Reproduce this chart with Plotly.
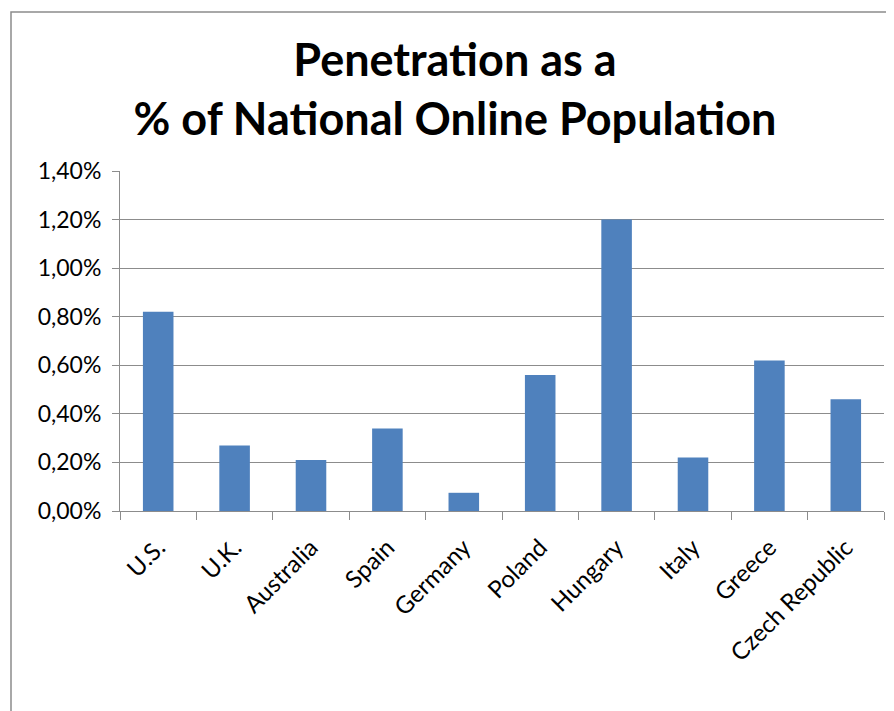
import plotly.graph_objects as go

countries = ["U.S.", "U.K.", "Australia", "Spain", "Germany", "Poland",
             "Hungary", "Italy", "Greece", "Czech Republic"]
penetration = [0.0082, 0.0027, 0.0021, 0.0034, 0.00075, 0.0056,
               0.0120, 0.0022, 0.0062, 0.0046]
y_ticks = [0, 0.002, 0.004, 0.006, 0.008, 0.010, 0.012, 0.014]

# page body has an 8px margin, so the figure is drawn 8px in from the window edge
W, H = 886, 703
L, R, T, B = 112, 10, 163, 200
pw, ph = W - L - R, H - T - B

fig = go.Figure(go.Bar(x=countries, y=penetration, marker_color="#4F81BD",
                       marker_line_width=0))

font = "Lato, 'Open Sans', sans-serif"
fig.update_layout(
    width=W, height=H,
    margin=dict(l=L, r=R, t=T, b=B),
    paper_bgcolor="white", plot_bgcolor="white",
    separators=",.",
    bargap=0.6,
    showlegend=False,
    font=dict(family=font, color="black", size=22),
    title=dict(text="<b>Penetration as a<br>% of National Online Population</b>",
               x=0.5045, xanchor="center", y=0.903, yanchor="middle",
               yref="container",
               font=dict(family=font, size=45, color="black")),
)
fig.update_yaxes(range=[0, 0.014], tickvals=y_ticks, tickformat=".2%",
                 showgrid=True, gridcolor="#8c8c8c", gridwidth=1,
                 showline=True, linecolor="#8c8c8c", linewidth=1,
                 ticks="outside", ticklen=7, tickcolor="#8c8c8c",
                 zeroline=False, tickfont=dict(size=23), ticklabelstandoff=6)
fig.update_xaxes(tickangle=-45, showline=True, linecolor="#8c8c8c", linewidth=1,
                 ticks="outside", ticklen=8, tickcolor="#8c8c8c",
                 tickson="boundaries", tickfont=dict(size=24),
                 ticklabelstandoff=12)

# outer chart border (extends beyond the visible window at right/bottom)
fig.add_shape(type="rect", xref="paper", yref="paper",
              x0=(3 - L) / pw, x1=(W + 30 - L) / pw,
              y0=-(H + 30 - T - ph) / ph, y1=(H - B - 4) / ph,
              line=dict(color="#8c8c8c", width=1.5), layer="below")

fig.write_html("out.html")
